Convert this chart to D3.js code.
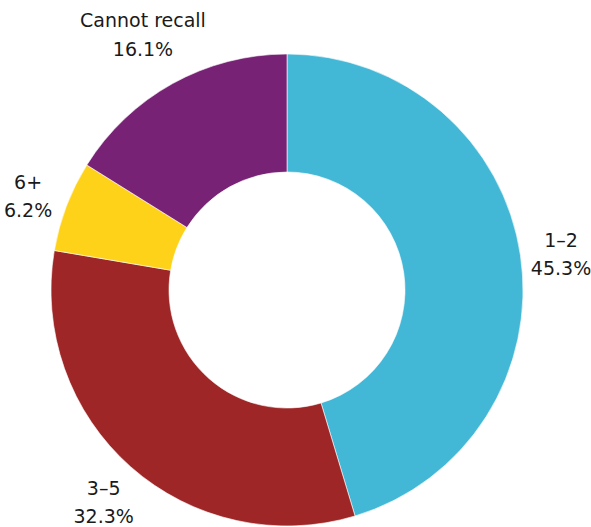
<!DOCTYPE html>
<html>
<head>
<meta charset="utf-8">
<script src="https://cdn.jsdelivr.net/npm/d3@7"></script>
<style>
  html, body { margin: 0; padding: 0; background: #fff; }
  svg { display: block; }
  text { font-family: "DejaVu Sans", "Noto Sans", sans-serif; fill: #1a1a1a; }
</style>
</head>
<body>
<svg id="chart" width="591" height="527"></svg>
<script>
// Number of items bought, share of respondents
const categories = ["1–2", "3–5", "6+", "Cannot recall"];
const shares = [45.3, 32.3, 6.2, 16.1];
const colors = ["#42B7D6", "#9E2626", "#FFD21A", "#772275"];

const width = 591, height = 527;
const cx = 287, cy = 290;
const outerR = 236, innerR = 118;

// label ring radius; the long top label sits a little further out
const labelRadius = c => (c === "Cannot recall" ? 297 : 277);

const svg = d3.select("#chart");
const g = svg.append("g").attr("transform", `translate(${cx},${cy})`);

const data = categories.map((c, i) => ({ category: c, value: shares[i], color: colors[i] }));

const pie = d3.pie().value(d => d.value).sort(null);
const arc = d3.arc().innerRadius(innerR).outerRadius(outerR);

const arcs = pie(data);

g.selectAll("path.slice")
  .data(arcs)
  .join("path")
  .attr("class", "slice")
  .attr("d", arc)
  .attr("fill", d => d.data.color)
  .attr("stroke", "#ffffff")
  .attr("stroke-width", 0.6);

const labels = g.selectAll("text.label")
  .data(arcs)
  .join("text")
  .attr("class", "label")
  .attr("text-anchor", "middle")
  .attr("font-size", 19)
  .attr("transform", d => {
    const r = labelRadius(d.data.category);
    const [x, y] = d3.arc().innerRadius(r).outerRadius(r).centroid(d);
    return `translate(${x},${y})`;
  });

labels.append("tspan")
  .attr("x", 0)
  .attr("dy", "-0.15em")
  .text(d => d.data.category);

labels.append("tspan")
  .attr("x", 0)
  .attr("dy", "1.5em")
  .text(d => d3.format(".1f")(d.data.value) + "%");
</script>
</body>
</html>
